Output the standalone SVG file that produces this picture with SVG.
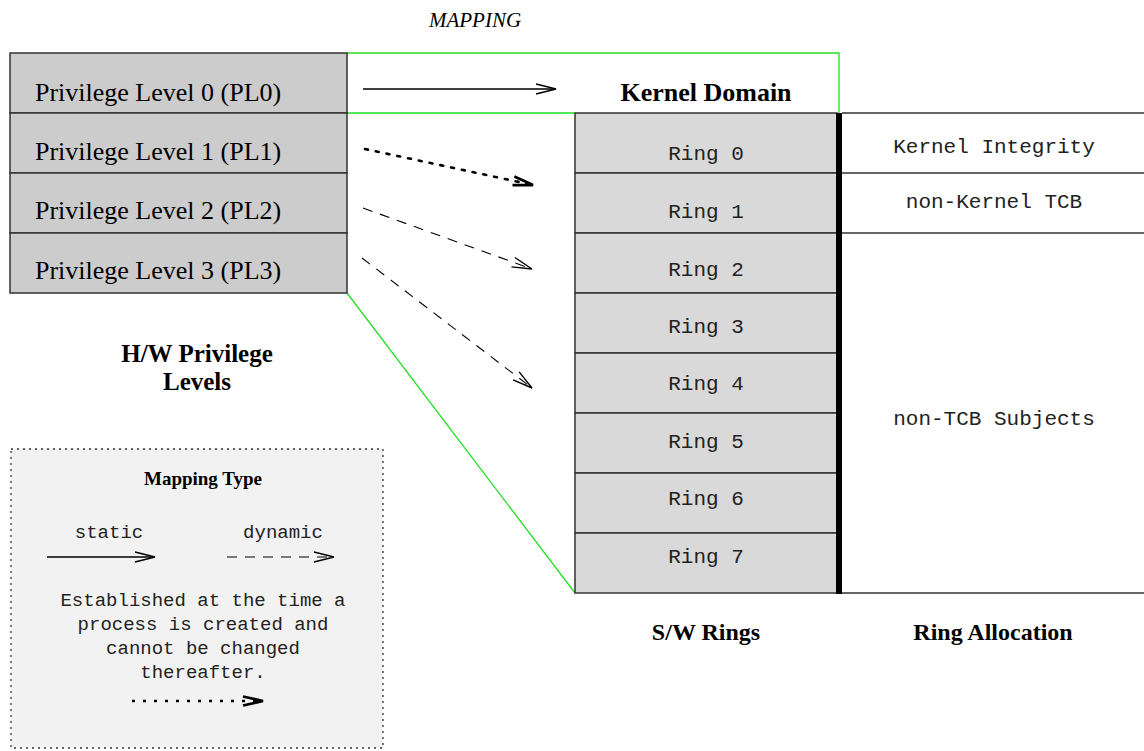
<svg xmlns="http://www.w3.org/2000/svg" width="1144" height="751" viewBox="0 0 1144 751">
  <style>
    .pl { fill: #cccccc; stroke: #333333; stroke-width: 1.5; }
    .ring { fill: #d9d9d9; stroke: #333333; stroke-width: 1.5; }
    .serif { font-family: "Liberation Serif", "Times New Roman", serif; fill: #000; }
    .plt { font-size: 26px; }
    .bold { font-weight: bold; }
    .mono { font-family: "Liberation Mono", "Courier New", monospace; fill: #222; }
    .green { fill: none; stroke: #22e022; stroke-width: 1.3; }
    .rule { stroke: #333333; stroke-width: 1.5; }
    .solid { fill: none; stroke: #000; stroke-width: 1.6; }
    .dashed { fill: none; stroke: #000; stroke-width: 1.1; stroke-dasharray: 10 8; }
    .dotted { fill: none; stroke: #000; stroke-width: 2.6; stroke-dasharray: 3 8; }
  </style>
  <defs>
    <marker id="open" markerUnits="userSpaceOnUse" markerWidth="24" markerHeight="14" refX="21" refY="7" orient="auto">
      <path d="M1,2 L21,7 L1,12" fill="none" stroke="#000" stroke-width="1.4"/>
    </marker>
    <marker id="bold" markerUnits="userSpaceOnUse" markerWidth="24" markerHeight="14" refX="21" refY="7" orient="auto">
      <path d="M1,2.5 L21,7 L1,11.5" fill="none" stroke="#000" stroke-width="2.8"/>
    </marker>
  </defs>

  <text class="serif" x="475" y="27" font-size="21" font-style="italic" text-anchor="middle">MAPPING</text>

  <!-- mapping region outlines -->
  <g id="mapping-outline">
    <path class="green" d="M347,113 L575,113 M347,53 L839,53 L839,113 M347,293 L575,593"/>
  </g>

  <!-- hardware privilege levels -->
  <g id="pl0"><rect class="pl" x="10" y="53" width="337" height="60"/><text class="serif plt" x="35" y="101">Privilege Level 0 (PL0)</text></g>
  <g id="pl1"><rect class="pl" x="10" y="113" width="337" height="60"/><text class="serif plt" x="35" y="160">Privilege Level 1 (PL1)</text></g>
  <g id="pl2"><rect class="pl" x="10" y="173" width="337" height="60"/><text class="serif plt" x="35" y="219">Privilege Level 2 (PL2)</text></g>
  <g id="pl3"><rect class="pl" x="10" y="233" width="337" height="60"/><text class="serif plt" x="35" y="279">Privilege Level 3 (PL3)</text></g>
  <g id="hw-label">
    <text class="serif bold" x="197" y="362" font-size="25" text-anchor="middle">H/W Privilege</text>
    <text class="serif bold" x="197" y="390" font-size="25" text-anchor="middle">Levels</text>
  </g>

  <g id="kernel-domain"><text class="serif bold" x="706" y="101" font-size="26" text-anchor="middle">Kernel Domain</text></g>

  <!-- software rings -->
  <g id="ring0"><rect class="ring" x="575" y="113" width="262" height="60"/><text class="mono" x="706" y="160" font-size="21" text-anchor="middle">Ring 0</text></g>
  <g id="ring1"><rect class="ring" x="575" y="173" width="262" height="60"/><text class="mono" x="706" y="218" font-size="21" text-anchor="middle">Ring 1</text></g>
  <g id="ring2"><rect class="ring" x="575" y="233" width="262" height="60"/><text class="mono" x="706" y="276" font-size="21" text-anchor="middle">Ring 2</text></g>
  <g id="ring3"><rect class="ring" x="575" y="293" width="262" height="60"/><text class="mono" x="706" y="333" font-size="21" text-anchor="middle">Ring 3</text></g>
  <g id="ring4"><rect class="ring" x="575" y="353" width="262" height="60"/><text class="mono" x="706" y="390" font-size="21" text-anchor="middle">Ring 4</text></g>
  <g id="ring5"><rect class="ring" x="575" y="413" width="262" height="60"/><text class="mono" x="706" y="448" font-size="21" text-anchor="middle">Ring 5</text></g>
  <g id="ring6"><rect class="ring" x="575" y="473" width="262" height="60"/><text class="mono" x="706" y="505" font-size="21" text-anchor="middle">Ring 6</text></g>
  <g id="ring7"><rect class="ring" x="575" y="533" width="262" height="60"/><text class="mono" x="706" y="563" font-size="21" text-anchor="middle">Ring 7</text></g>
  <rect id="divider" x="836" y="113" width="6" height="481" fill="#000"/>
  <g id="sw-label"><text class="serif bold" x="706" y="640" font-size="24" text-anchor="middle">S/W Rings</text></g>

  <!-- ring allocation -->
  <g id="allocation-rules">
    <path class="rule" d="M842,113 H1144 M842,173 H1144 M842,233 H1144 M842,593 H1144"/>
  </g>
  <g id="alloc-kernel"><text class="mono" x="994" y="153" font-size="21" text-anchor="middle">Kernel Integrity</text></g>
  <g id="alloc-tcb"><text class="mono" x="994" y="208" font-size="21" text-anchor="middle">non-Kernel TCB</text></g>
  <g id="alloc-subjects"><text class="mono" x="994" y="425" font-size="21" text-anchor="middle">non-TCB Subjects</text></g>
  <g id="alloc-label"><text class="serif bold" x="993" y="640" font-size="24" text-anchor="middle">Ring Allocation</text></g>

  <!-- mapping arrows -->
  <g id="connectors">
    <line class="solid" x1="363" y1="89" x2="556" y2="89" marker-end="url(#open)"/>
    <line class="dotted" x1="365" y1="149" x2="533" y2="185" stroke-linecap="round" marker-end="url(#bold)"/>
    <line class="dashed" x1="363" y1="208" x2="532" y2="269" marker-end="url(#open)"/>
    <line class="dashed" x1="362" y1="258" x2="532" y2="388" marker-end="url(#open)"/>
  </g>

  <!-- legend -->
  <g id="legend">
    <rect x="11" y="449" width="372" height="299" fill="#f2f2f2" stroke="#333" stroke-width="1.3" stroke-dasharray="2 4"/>
    <text class="serif bold" x="203" y="485" font-size="19" text-anchor="middle">Mapping Type</text>
    <text class="mono" x="109" y="538" font-size="19" text-anchor="middle">static</text>
    <text class="mono" x="283" y="538" font-size="19" text-anchor="middle">dynamic</text>
    <line class="solid" x1="47" y1="557" x2="155" y2="557" stroke-width="1.2" marker-end="url(#open)"/>
    <line class="dashed" x1="227" y1="557" x2="334" y2="557" stroke-dasharray="9 7" marker-end="url(#open)"/>
    <text class="mono" x="203" y="606" font-size="19" text-anchor="middle">Established at the time a</text>
    <text class="mono" x="203" y="630" font-size="19" text-anchor="middle">process is created and</text>
    <text class="mono" x="203" y="654" font-size="19" text-anchor="middle">cannot be changed</text>
    <text class="mono" x="203" y="678" font-size="19" text-anchor="middle">thereafter.</text>
    <line class="dotted" x1="132" y1="701" x2="263" y2="701" stroke-width="2.4" stroke-dasharray="4 4" marker-end="url(#bold)"/>
  </g>
</svg>
